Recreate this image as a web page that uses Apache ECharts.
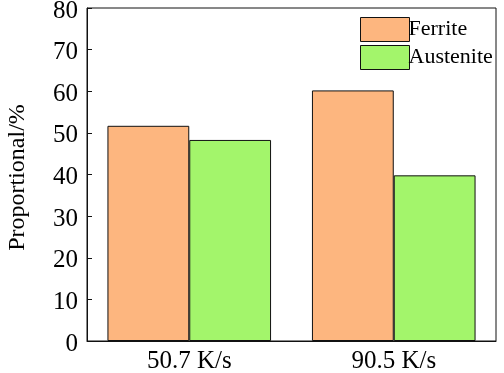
<!DOCTYPE html>
<html>
<head>
<meta charset="utf-8">
<script src="https://cdn.jsdelivr.net/npm/echarts@6/dist/echarts.min.js"></script>
<style>
html, body { margin: 0; padding: 0; background: #fff; }
#main { width: 504px; height: 373px; }
</style>
</head>
<body>
<div id="main"></div>
<script>
// 数据
var categories = ['50.7 K/s', '90.5 K/s'];
var ferrite = [51.7, 60.2];
var austenite = [48.3, 39.8];

var myChart = echarts.init(document.getElementById('main'));
var font = 'Liberation Serif';

var option = {
    animation: false,
    grid: {
        left: 87,
        right: 8,
        top: 8,
        bottom: 32,
        outerBoundsMode: 'none',
        containLabel: false,
        show: true,
        borderColor: '#111',
        borderWidth: 1
    },
    legend: {
        orient: 'vertical',
        left: 355,
        top: 12,
        icon: 'rect',
        itemWidth: 49,
        itemHeight: 24,
        itemGap: 3,
        itemStyle: { borderColor: '#111', borderWidth: 1 },
        textStyle: { fontFamily: font, fontSize: 22, color: '#000', padding: [0, 0, 0, -6] },
        data: ['Ferrite', 'Austenite']
    },
    xAxis: {
        type: 'category',
        data: categories,
        axisLine: { lineStyle: { color: '#111', width: 1 } },
        axisTick: { show: false },
        axisLabel: { fontFamily: font, fontSize: 25, color: '#000', margin: 8 }
    },
    yAxis: {
        type: 'value',
        min: 0,
        max: 80,
        interval: 10,
        name: 'Proportional/%',
        nameLocation: 'middle',
        nameGap: 57,
        nameTextStyle: { fontFamily: font, fontSize: 24, color: '#000', padding: [0, 6, 0, 0] },
        splitLine: { show: false },
        axisLine: { show: true, lineStyle: { color: '#111', width: 1 } },
        axisTick: { show: true, inside: true, length: 5, lineStyle: { color: '#111' } },
        axisLabel: {
            margin: 9,
            formatter: '{v|{value}}',
            rich: { v: { fontFamily: font, fontSize: 25, color: '#000', padding: [6, 0, 0, 0] } }
        }
    },
    series: [
        {
            name: 'Ferrite',
            type: 'bar',
            data: ferrite,
            barGap: '0%',
            barCategoryGap: '20%',
            itemStyle: { color: '#fdb67f', borderColor: '#111', borderWidth: 1 }
        },
        {
            name: 'Austenite',
            type: 'bar',
            data: austenite,
            itemStyle: { color: '#a3f56b', borderColor: '#111', borderWidth: 1 }
        }
    ]
};
myChart.setOption(option);
</script>
</body>
</html>
